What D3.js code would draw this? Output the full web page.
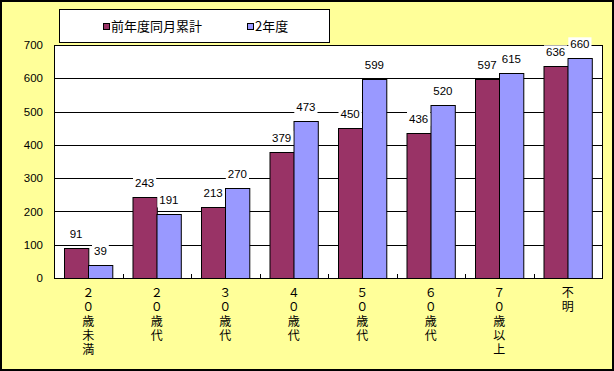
<!DOCTYPE html>
<html lang="ja">
  <head>
    <meta charset="UTF-8" />
    <title>年代別 件数</title>
    <style>
      body { margin: 0; background: #ffffff; }
      svg { display: block; }
      .axis-label { font-family: "Liberation Sans Narrow", "Liberation Sans", sans-serif; font-size: 11.5px; fill: #000; }
      .cat-label { font-family: "Noto Sans CJK JP", sans-serif; font-size: 12px; fill: #000; }
      .legend-text { font-family: "Noto Sans CJK JP", sans-serif; font-size: 13px; fill: #000; }
    </style>
  </head>
  <body>
    <script src="https://cdn.jsdelivr.net/npm/d3@7"></script>
    <script>

    // categories (vertical labels, full width digits)
    var categories = ["２０歳未満", "２０歳代", "３０歳代", "４０歳代", "５０歳代", "６０歳代", "７０歳以上", "不明"];

    // series names
    var seriesNames = ["前年度同月累計", "2年度"];

    // series values
    var prevYear = [91, 243, 213, 379, 450, 436, 597, 636];
    var thisYear = [39, 191, 270, 473, 599, 520, 615, 660];

    // y axis ticks
    var yTicks = [0, 100, 200, 300, 400, 500, 600, 700];

    var colors = ["#993366", "#9999ff"];

    // canvas size
    var w = 614,
        h = 371;

    // plot area
    var plot = { left: 54, top: 45, right: 602, bottom: 278 };

    var svg = d3.select("body")
                .append("svg")
                .attr("width", w)
                .attr("height", h);

    // yellow background with frame
    svg.append("rect")
       .attr("x", 1)
       .attr("y", 1)
       .attr("width", w - 2)
       .attr("height", h - 2)
       .attr("fill", "#ffff99")
       .attr("stroke", "#000")
       .attr("stroke-width", 2);

    // scales
    var x0 = d3.scaleBand()
      .domain(categories)
      .range([plot.left, plot.right])
      .padding(0);

    var x1 = d3.scaleBand()
      .domain([0, 1])
      .range([0, x0.bandwidth()])
      .paddingInner(0)
      .paddingOuter(0.41);

    var yScale = d3.scaleLinear()
      .domain([0, 700])
      .range([plot.bottom, plot.top]);

    // plot area background
    svg.append("rect")
       .attr("x", plot.left + 0.5)
       .attr("y", plot.top + 0.5)
       .attr("width", plot.right - plot.left)
       .attr("height", plot.bottom - plot.top)
       .attr("fill", "#fff")
       .attr("stroke", "#000");

    // gridlines as 1px filled rects
    svg.append("g")
       .attr("class", "grid")
       .selectAll("rect")
       .data(yTicks.slice(1, -1))
       .enter()
       .append("rect")
       .attr("x", plot.left)
       .attr("y", function(d) { return Math.round(yScale(d)); })
       .attr("width", plot.right - plot.left + 1)
       .attr("height", 1)
       .attr("fill", "#000");

    // y axis labels
    var yAxis = d3.axisLeft(yScale)
      .tickValues(yTicks)
      .tickSize(0)
      .tickPadding(11);

    var yg = svg.append("g")
       .attr("transform", "translate(" + plot.left + ",0)")
       .call(yAxis);
    yg.select(".domain").remove();
    yg.selectAll("text")
      .attr("class", "axis-label")
      .attr("font-family", null)
      .attr("font-size", null);

    // bars
    var rows = categories.map(function(c, i) {
      return { cat: c, vals: [prevYear[i], thisYear[i]] };
    });

    var groups = svg.append("g")
       .selectAll("g")
       .data(rows)
       .enter()
       .append("g")
       .attr("transform", function(d) { return "translate(" + x0(d.cat) + ",0)"; });

    groups.selectAll("rect")
       .data(function(d) { return d.vals; })
       .enter()
       .append("rect")
       .attr("x", function(d, i) { return Math.round(x1(i)) + 0.5; })
       .attr("y", function(d) { return Math.round(yScale(d)) + 0.5; })
       .attr("width", x1.bandwidth())
       .attr("height", function(d) { return plot.bottom - Math.round(yScale(d)); })
       .attr("fill", function(d, i) { return colors[i]; })
       .attr("stroke", "#000");

    // data labels with white boxes
    var labels = groups.selectAll("g.lbl")
       .data(function(d) { return d.vals; })
       .enter()
       .append("g")
       .attr("class", "lbl")
       .attr("transform", function(d, i) {
         return "translate(" + (x1(i) + x1.bandwidth() / 2) + "," + (yScale(d) - 14) + ")";
       });

    labels.append("rect")
       .attr("y", -7)
       .attr("height", 14)
       .attr("fill", "#fff");

    labels.append("text")
       .attr("class", "axis-label")
       .attr("text-anchor", "middle")
       .attr("dy", "0.35em")
       .text(function(d) { return d; });

    // size each white box to its text
    labels.each(function() {
      var g = d3.select(this);
      var bw = g.select("text").node().getComputedTextLength() + 4;
      g.select("rect").attr("x", -bw / 2).attr("width", bw);
    });

    // category tick marks along the bottom
    svg.append("g")
       .selectAll("line")
       .data(categories.slice(1))
       .enter()
       .append("line")
       .attr("x1", function(d) { return Math.round(x0(d)) + 0.5; })
       .attr("x2", function(d) { return Math.round(x0(d)) + 0.5; })
       .attr("y1", plot.bottom)
       .attr("y2", plot.bottom - 4)
       .attr("stroke", "#000");

    // bottom axis line
    svg.append("line")
       .attr("x1", plot.left)
       .attr("x2", plot.right + 1)
       .attr("y1", plot.bottom + 0.5)
       .attr("y2", plot.bottom + 0.5)
       .attr("stroke", "#000");

    // vertical category labels, one character per line
    var chars = [];
    categories.forEach(function(c) {
      Array.from(c).forEach(function(ch, k) {
        chars.push({ cat: c, ch: ch, k: k });
      });
    });

    svg.append("g")
       .selectAll("text")
       .data(chars)
       .enter()
       .append("text")
       .attr("class", "cat-label")
       .attr("text-anchor", "middle")
       .attr("x", function(d) { return x0(d.cat) + x0.bandwidth() / 2; })
       .attr("y", function(d) { return 297 + d.k * 14.3; })
       .text(function(d) { return d.ch; });

    // legend
    var legend = svg.append("g");

    legend.append("rect")
       .attr("x", 59.5)
       .attr("y", 9.5)
       .attr("width", 270)
       .attr("height", 33)
       .attr("fill", "#fff")
       .attr("stroke", "#000");

    var legendX = [103, 247];

    legend.selectAll("rect.key")
       .data(seriesNames)
       .enter()
       .append("rect")
       .attr("class", "key")
       .attr("x", function(d, i) { return legendX[i] + 0.5; })
       .attr("y", 23.5)
       .attr("width", 6)
       .attr("height", 6)
       .attr("fill", function(d, i) { return colors[i]; })
       .attr("stroke", "#000");

    legend.selectAll("text")
       .data(seriesNames)
       .enter()
       .append("text")
       .attr("class", "legend-text")
       .attr("x", function(d, i) { return legendX[i] + 8; })
       .attr("y", 31)
       .text(function(d) { return d; });

    </script>
  </body>
</html>
